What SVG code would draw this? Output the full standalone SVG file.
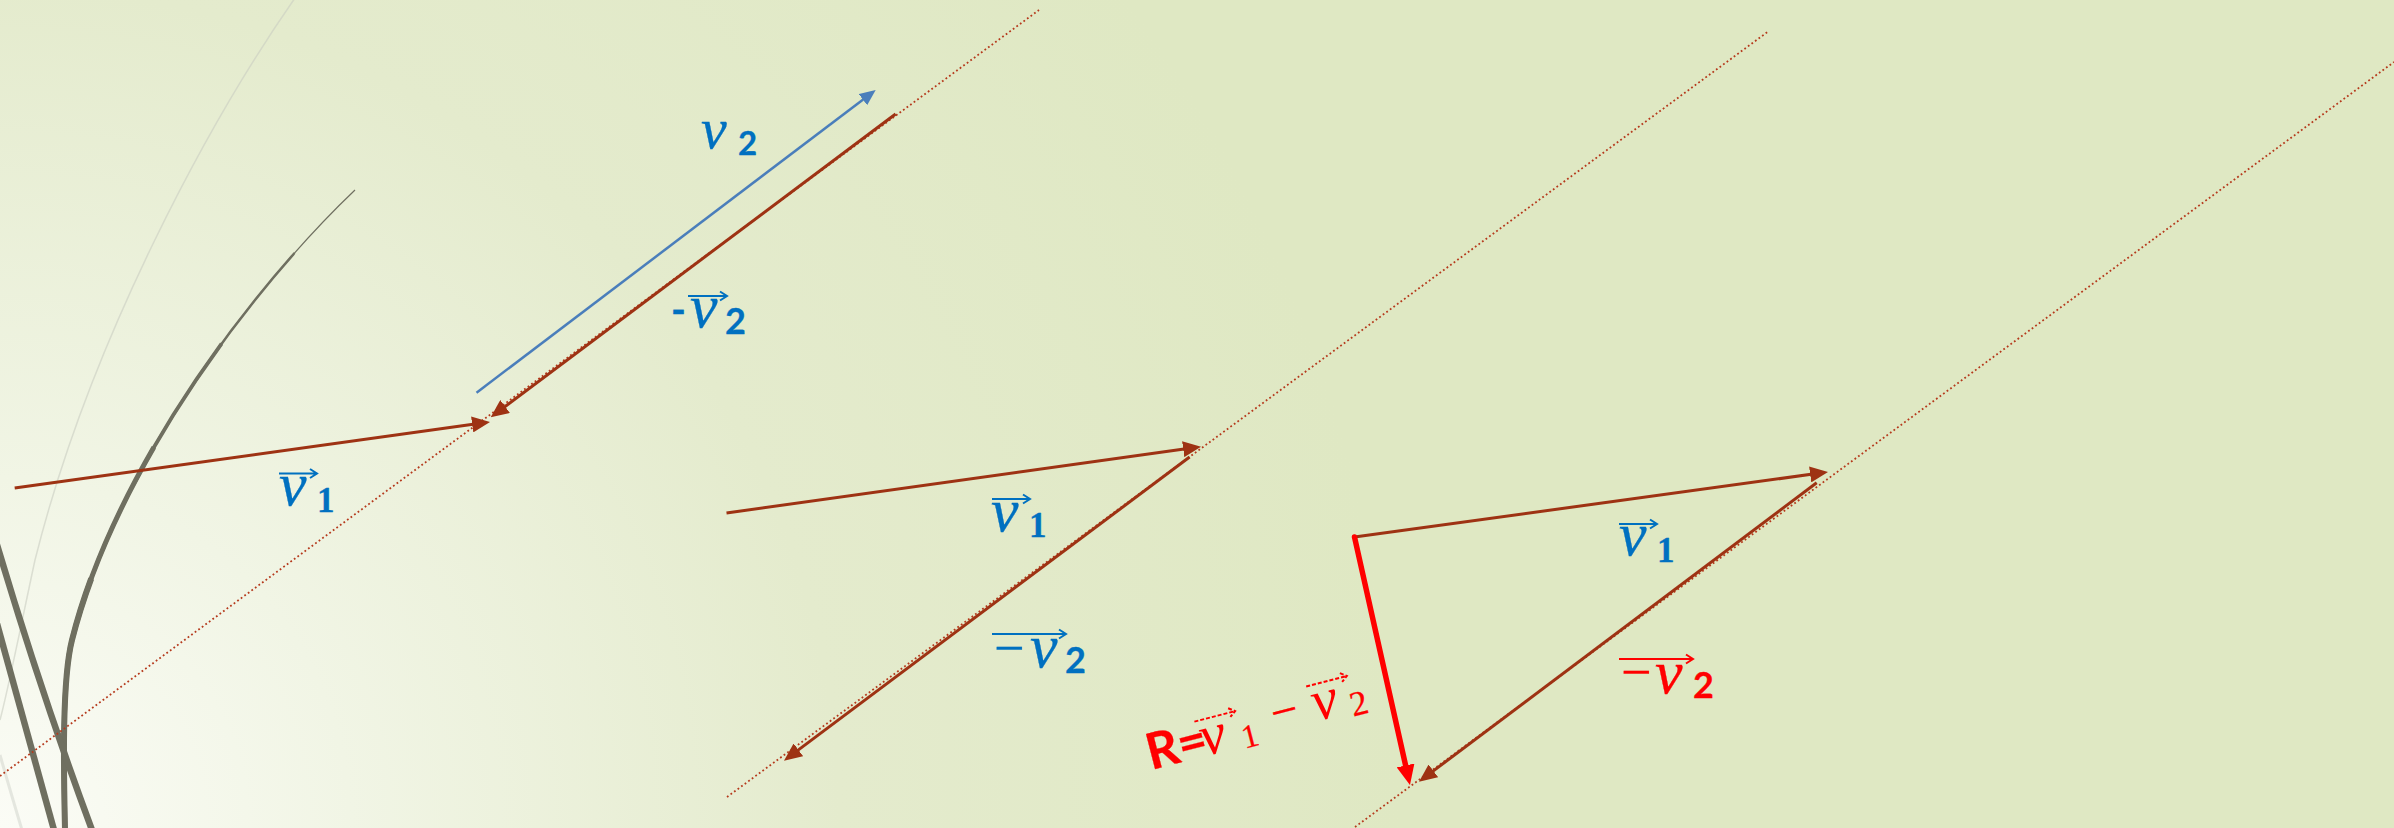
<svg xmlns="http://www.w3.org/2000/svg" width="2394" height="828" viewBox="0 0 2394 828">
<defs>
<radialGradient id="bg" gradientUnits="userSpaceOnUse" cx="0" cy="828" r="1400">
<stop offset="0" stop-color="#fbfcf6"/>
<stop offset="0.25" stop-color="#f1f5e5"/>
<stop offset="0.6" stop-color="#e4ebcd"/>
<stop offset="1" stop-color="#dfe8c3"/>
</radialGradient>
<marker id="ahBrown" markerUnits="userSpaceOnUse" viewBox="0 0 18 16" markerWidth="18" markerHeight="16" refX="10" refY="8" orient="auto"><path d="M0,0 L18,8 L0,16 z" fill="#9e3213"/></marker>
<marker id="ahBlue" markerUnits="userSpaceOnUse" viewBox="0 0 16 14" markerWidth="16" markerHeight="14" refX="9" refY="7" orient="auto"><path d="M0,0 L16,7 L0,14 z" fill="#4a7ebb"/></marker>
<marker id="ahRed" markerUnits="userSpaceOnUse" viewBox="0 0 20 18" markerWidth="20" markerHeight="18" refX="10" refY="9" orient="auto"><path d="M0,0 L20,9 L0,18 z" fill="#ff0000"/></marker>
<path id="arc" d="M355,190 C250,290 115,470 72,640 C61.25,682.5 64,780 65,830" pathLength="100"/>
</defs>
<style>
.vec{stroke:#9e3213;stroke-width:3;fill:none;marker-end:url(#ahBrown)}
.dot{stroke:#b5391c;stroke-width:1.8;stroke-dasharray:1.8 2.6;fill:none}
.deco{stroke:#6f6f60;fill:none}
.v{font-family:"Liberation Serif","DejaVu Serif",serif;font-style:italic;font-size:62px;stroke-width:0.8px}
.d1{font-family:"Liberation Serif","DejaVu Serif",serif;font-weight:bold;font-size:35px}
.d2{font-family:Lato,"Liberation Sans",sans-serif;font-weight:bold;font-size:36px}
.mn{font-family:"Liberation Serif","DejaVu Serif",serif;font-size:54px}
.blue{fill:#0070c0;stroke:#0070c0;stroke-width:0.3px}
.red{fill:#ff0000;stroke:#ff0000;stroke-width:0.3px}
.ovb{stroke:#0070c0;stroke-width:2;fill:none}
.ovr{stroke:#ff0000;stroke-width:2;fill:none}
</style>
<rect x="0" y="0" width="2394" height="828" fill="url(#bg)"/>
<g id="decoration">
<path d="M295,-2 C210,120 90,340 35,560 C20,630 8,690 0,720" stroke="#c9cdc2" stroke-width="1.5" fill="none" opacity="0.6"/>
<path d="M0,755 Q10,790 22,830" stroke="#d6d9d0" stroke-width="3" fill="none" opacity="0.6"/>
<use href="#arc" class="deco" stroke-width="1.2"/>
<use href="#arc" class="deco" stroke-width="2.5" stroke-dasharray="0 12 100"/>
<use href="#arc" class="deco" stroke-width="3.8" stroke-dasharray="0 28 100"/>
<use href="#arc" class="deco" stroke-width="5" stroke-dasharray="0 45 100"/>
<use href="#arc" class="deco" stroke-width="6" stroke-dasharray="0 65 100"/>
<path d="M-5,538 Q40,690 92,830" class="deco" stroke-width="6.5"/>
<path d="M-4,620 Q18,700 54,830" class="deco" stroke-width="6.5"/>
</g>
<g id="connectors">
<line class="dot" x1="0" y1="776" x2="1039" y2="10"/>
<line class="dot" x1="727" y1="797" x2="1767.5" y2="32"/>
<line class="dot" x1="1355" y1="827" x2="2394" y2="62"/>
<line class="vec" x1="14.7" y1="488" x2="482.1" y2="423.1"/>
<line class="vec" x1="895.6" y1="114" x2="497.1" y2="412.5"/>
<line x1="476.5" y1="392.7" x2="870.1" y2="94.2" stroke="#4a7ebb" stroke-width="2.5" marker-end="url(#ahBlue)"/>
<line class="vec" x1="726.5" y1="513" x2="1193.1" y2="447.8"/>
<line class="vec" x1="1189.6" y1="457" x2="790.4" y2="755.9"/>
<line class="vec" x1="1354.5" y1="537" x2="1820.1" y2="473.1"/>
<line class="vec" x1="1816.7" y1="482.7" x2="1425.4" y2="776.9"/>
<line x1="1354.5" y1="537" x2="1407.8" y2="775.2" stroke="#ff0000" stroke-width="5.5" stroke-linecap="round" marker-end="url(#ahRed)"/>
</g>
<g id="label-left-v1">
<path class="ovb" d="M279,473.5 H317 M310,469 L317,473.5 L310,478"/>
<text class="v blue" x="279" y="505">v</text>
<text class="d1 blue" x="317" y="512">1</text>
</g>
<g id="label-left-v2">
<text class="v blue" x="701" y="148" style="font-size:58px">v</text>
<text class="d2 blue" x="738" y="155" style="font-size:33px">2</text>
</g>
<g id="label-left-minus-v2">
<text class="d2 blue" x="671" y="324" style="font-size:40px">-</text>
<path class="ovb" d="M688,296 H727 M720,291.5 L727,296 L720,300.5"/>
<text class="v blue" x="690" y="327">v</text>
<text class="d2 blue" x="725" y="334">2</text>
</g>
<g id="label-mid-v1">
<path class="ovb" d="M992,499 H1030 M1023,494.5 L1030,499 L1023,503.5"/>
<text class="v blue" x="991" y="531">v</text>
<text class="d1 blue" x="1029" y="537">1</text>
</g>
<g id="label-mid-minus-v2">
<path class="ovb" d="M992,634 H1066 M1059,629.5 L1066,634 L1059,638.5"/>
<text class="mn blue" x="994" y="666">−</text>
<text class="v blue" x="1030" y="667">v</text>
<text class="d2 blue" x="1065" y="673">2</text>
</g>
<g id="label-right-v1">
<path class="ovb" d="M1619,524 H1657 M1650,519.5 L1657,524 L1650,528.5"/>
<text class="v blue" x="1619" y="555">v</text>
<text class="d1 blue" x="1657" y="562">1</text>
</g>
<g id="label-right-minus-v2">
<path class="ovr" d="M1619,659 H1693 M1686,654.5 L1693,659 L1686,663.5"/>
<text class="mn red" x="1621" y="690">−</text>
<text class="v red" x="1655" y="693">v</text>
<text class="d2 red" x="1693" y="698">2</text>
</g>
<g id="label-R" transform="translate(1155,769) rotate(-14.5)">
<text class="red" x="-4" y="0" style="font-family:Lato,'Liberation Sans',sans-serif;font-weight:bold;font-size:50px">R=</text>
<path d="M50,-36 H92 M86,-40.5 L92,-36 L86,-31.5" stroke="#ff0000" stroke-width="2" stroke-dasharray="4 2" fill="none"/>
<text class="v red" x="51" y="0" style="font-size:58px;stroke-width:0">v</text>
<text class="red" x="92" y="3" style="font-family:'Liberation Serif',serif;font-size:33px">1</text>
<text class="mn red" x="126" y="-8" style="font-size:48px">−</text>
<path d="M167,-42 H209 M203,-46.5 L209,-42 L203,-37.5" stroke="#ff0000" stroke-width="2" stroke-dasharray="4 2" fill="none"/>
<text class="v red" x="168" y="-6" style="font-size:58px;stroke-width:0">v</text>
<text class="red" x="205" y="-1" style="font-family:'Liberation Serif',serif;font-size:35px">2</text>
</g>
</svg>
